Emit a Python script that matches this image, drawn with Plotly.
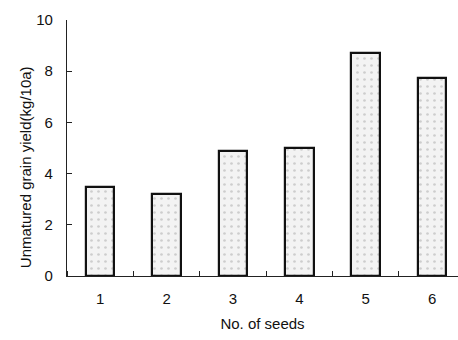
import plotly.graph_objects as go

seeds = [1, 2, 3, 4, 5, 6]
tick_labels = ["1", "2", "3", "4", "5", "6"]
yield_kg = [3.48, 3.2, 4.88, 5.0, 8.7, 7.75]

font = "Liberation Sans, Arial, sans-serif"

fig = go.Figure()
fig.add_trace(go.Bar(
    x=seeds, y=yield_kg, width=0.43,
    marker=dict(color="#f3f3f3",
                line=dict(color="#111111", width=2.2),
                pattern=dict(shape=".", fgcolor="#a8a8a8", bgcolor="#f3f3f3", size=7, solidity=0.12)),
    showlegend=False,
))

fig.update_layout(
    width=458, height=340,
    margin=dict(l=67, r=0, t=20, b=64),
    paper_bgcolor="white", plot_bgcolor="white",
    font=dict(family=font, size=15, color="#111111"),
    bargap=0,
)
fig.update_xaxes(
    range=[0.5, 6.39], tickvals=seeds, ticktext=tick_labels,
    ticks="", showgrid=False, zeroline=False,
    showline=True, linecolor="#222222", linewidth=1.2,
    minor=dict(ticks="inside", tick0=0.5, dtick=1, ticklen=5, tickcolor="#222222", tickwidth=1),
    ticklabelstandoff=9,
    title=dict(text="No. of seeds", standoff=12, font=dict(size=15)),
)
fig.update_yaxes(
    range=[0, 10], tickvals=[0, 2, 4, 6, 8, 10],
    ticks="inside", ticklen=5, tickcolor="#222222", tickwidth=1,
    showgrid=False, zeroline=False,
    showline=True, linecolor="#222222", linewidth=1.2,
    ticklabelstandoff=10,
)
fig.add_annotation(
    text="Unmatured grain yield(kg/10a)", textangle=-90,
    xref="paper", yref="paper", x=0, y=0.425, xshift=-42,
    xanchor="center", yanchor="middle", showarrow=False,
    font=dict(size=15),
)

fig.write_html("out.html")
